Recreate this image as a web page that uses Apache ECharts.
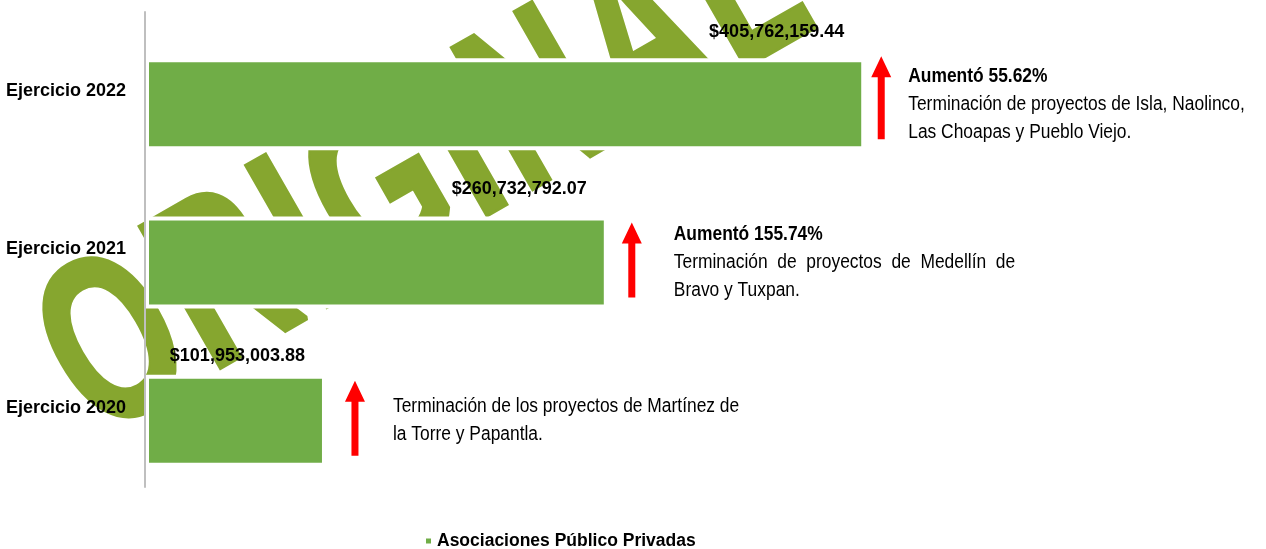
<!DOCTYPE html>
<html>
<head>
<meta charset="utf-8">
<script src="https://cdn.jsdelivr.net/npm/echarts@6/dist/echarts.min.js"></script>
<style>
  html, body { margin: 0; padding: 0; background: #fff; }
  #main { width: 1266px; height: 549px; }
</style>
</head>
<body>
<div id="main"></div>
<script>
// datos
const categories = ['Ejercicio 2020', 'Ejercicio 2021', 'Ejercicio 2022'];
const montos = [101953003.88, 260732792.07, 405762159.44];
const seriesName = 'Asociaciones Público Privadas';

// notas a la derecha de cada barra
const noteTitles = ['', 'Aumentó 155.74%', 'Aumentó 55.62%'];
const noteLines = [
  ['Terminación de los proyectos de Martínez de', 'la Torre y Papantla.'],
  ['Terminación  de  proyectos  de  Medellín  de', 'Bravo y Tuxpan.'],
  ['Terminación de proyectos de Isla, Naolinco,', 'Las Choapas y Pueblo Viejo.']
];
const stampText = 'ORIGINAL';

// ajustes de dibujo (no son datos)
const labelDy = [-19, -27, -26];
const arrowGap = [31, 26, 18];
const arrowTop = [-40, -40, -48];
const textGap = [69, 68, 45];

const FONT = '"Liberation Sans", Arial, sans-serif';
const GREEN = '#70ad47';
const STAMP = '#86a62f';
const BAR_SHIFT = 13;

const chart = echarts.init(document.getElementById('main'), null, { renderer: 'canvas' });

function money(v) {
  return '$' + v.toLocaleString('en-US', { minimumFractionDigits: 2, maximumFractionDigits: 2 });
}

// sello de agua: letras una por una, angostas y giradas
function stamp() {
  const size = 235, sx = 0.67, gap = 9, rot = 0.52;
  const font = 'bold ' + size + 'px ' + FONT;
  const ctx = document.createElement('canvas').getContext('2d');
  ctx.font = font;
  const letters = stampText.split('');
  const w = letters.map(ch => ctx.measureText(ch).width * sx);
  let pos = 0;
  const kids = letters.map((ch, i) => {
    if (i > 0) pos += w[i - 1] / 2 + gap + w[i] / 2;
    return {
      type: 'text',
      z: -10,
      silent: true,
      x: pos,
      y: 0,
      scaleX: sx,
      style: {
        text: ch, font: font, fill: STAMP,
        stroke: STAMP, lineWidth: 5,
        align: 'center', verticalAlign: 'middle'
      }
    };
  });
  return {
    type: 'group',
    z: -10,
    silent: true,
    x: 108 + 20 * Math.sin(rot),
    y: 334 + 20 * Math.cos(rot),
    rotation: rot,
    children: kids
  };
}

const option = {
  backgroundColor: '#fff',
  animation: false,
  textStyle: { fontFamily: FONT },
  grid: { left: 145, right: 56, top: 12, bottom: 62, containLabel: false, outerBoundsMode: 'none' },
  xAxis: {
    type: 'value',
    min: 0,
    max: 600000000,
    show: false
  },
  yAxis: {
    type: 'category',
    data: categories,
    z: 4,
    axisLine: { lineStyle: { color: '#bfbfbf', width: 2 } },
    axisTick: { length: 6, lineStyle: { color: '#bfbfbf', width: 2 } },
    axisLabel: {
      margin: 19,
      color: '#000',
      fontWeight: 'bold',
      fontSize: 18,
      fontFamily: FONT
    }
  },
  legend: {
    data: [seriesName],
    left: 419,
    top: 527,
    icon: 'rect',
    itemWidth: 7,
    itemHeight: 7,
    textStyle: { color: '#000', fontWeight: 'bold', fontSize: 17.5, fontFamily: FONT }
  },
  series: [
    {
      name: 'pad',
      type: 'bar',
      barWidth: 92,
      barGap: '-71.74%',
      data: [0, 0, 0],
      itemStyle: { color: 'transparent', borderWidth: 0 },
      silent: true
    },
    {
      name: seriesName,
      type: 'bar',
      barWidth: 92,
      data: montos.map((v, i) => ({
        value: v,
        label: { offset: [-21, labelDy[i]] }
      })),
      itemStyle: { color: GREEN, borderColor: '#fff', borderWidth: 4 },
      label: {
        show: true,
        position: ['100%', 0],
        align: 'right',
        verticalAlign: 'middle',
        color: '#000',
        fontWeight: 'bold',
        fontSize: 18,
        fontFamily: FONT,
        formatter: p => money(p.value)
      }
    }
  ]
};

chart.setOption(option);

// flechas y textos colocados a partir de las barras
const notes = [stamp()];
categories.forEach((c, i) => {
  const p = chart.convertToPixel({ gridIndex: 0 }, [montos[i], c]);
  const endX = p[0];
  const cy = p[1] + BAR_SHIFT;
  const ax = endX + arrowGap[i] - 2;
  const tip = cy + arrowTop[i];
  const bot = cy + 35;
  notes.push({
    type: 'polygon',
    z: 5,
    silent: true,
    shape: {
      points: [
        [ax, tip], [ax + 10, tip + 21], [ax + 3.5, tip + 21], [ax + 3.5, bot],
        [ax - 3.5, bot], [ax - 3.5, tip + 21], [ax - 10, tip + 21]
      ]
    },
    style: { fill: '#ff0000' }
  });
  let txt = noteLines[i].join('\n');
  if (noteTitles[i]) txt = '{b|' + noteTitles[i] + '}\n' + txt;
  notes.push({
    type: 'text',
    z: 5,
    silent: true,
    x: endX - 2 + textGap[i],
    y: cy,
    scaleX: 0.87,
    style: {
      text: txt,
      font: '20px ' + FONT,
      fill: '#000',
      lineHeight: 28,
      align: 'left',
      verticalAlign: 'middle',
      rich: {
        b: { fontWeight: 'bold', fontSize: 20, fontFamily: FONT, lineHeight: 28, fill: '#000' }
      }
    }
  });
});

chart.setOption({ graphic: { elements: notes } });
</script>
</body>
</html>
